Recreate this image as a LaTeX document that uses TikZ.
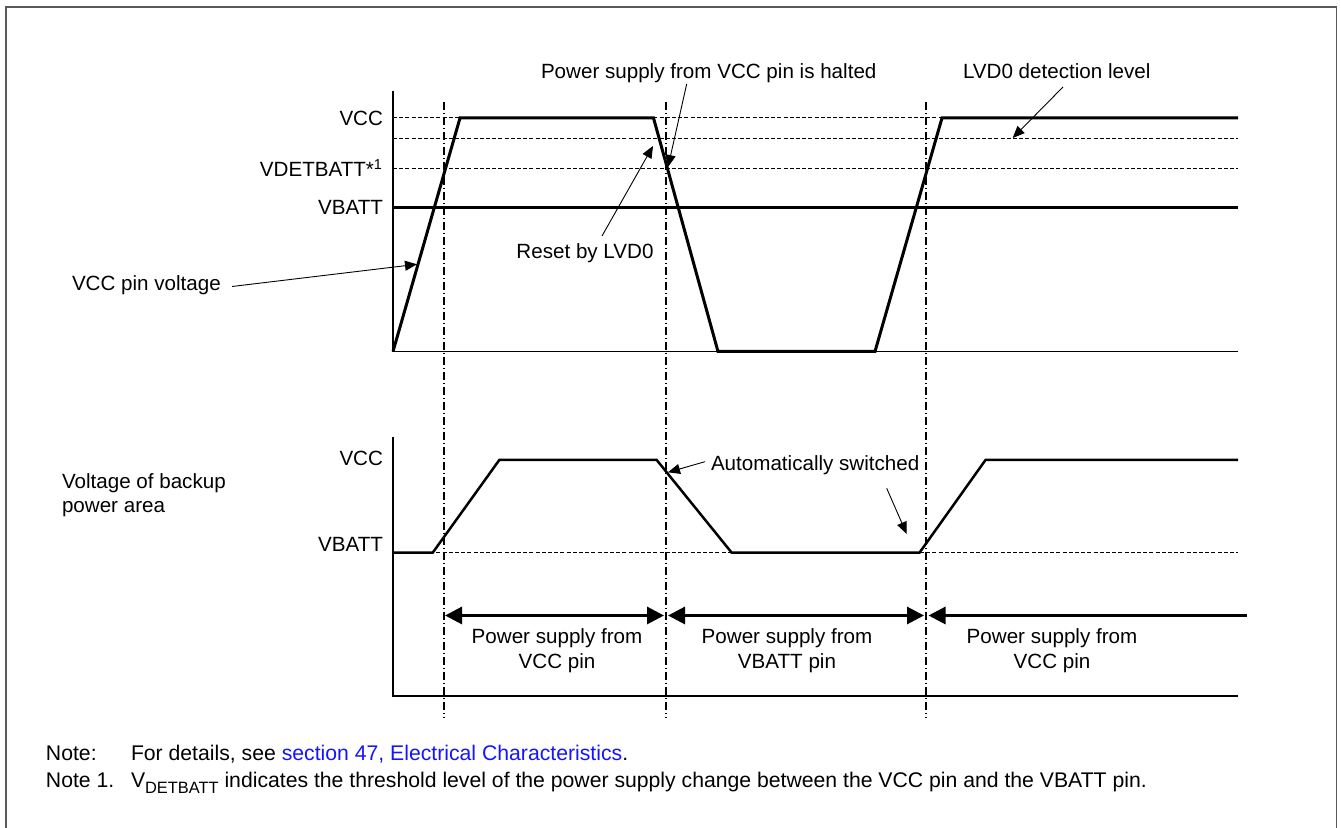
\documentclass[tikz,border=0pt]{standalone}
\usepackage{fontspec}
\setmainfont{Liberation Sans}
\usetikzlibrary{arrows.meta}
\definecolor{framecol}{RGB}{90,90,90}
\definecolor{linkblue}{RGB}{20,20,255}
\newcommand{\mysubtext}[1]{\raisebox{-0.28em}{\fontsize{8.2pt}{9pt}\selectfont #1}}
\begin{document}
\begin{tikzpicture}[x=0.5pt,y=-0.5pt,
  font=\fontsize{10.3pt}{12.3pt}\selectfont,
  lbl/.style={inner sep=0pt, outer sep=0pt},
  notetext/.style={inner sep=0pt, outer sep=0pt, font=\fontsize{10.6pt}{12.6pt}\selectfont},
  thickline/.style={line width=1.5pt, line join=miter},
  midline/.style={line width=1.25pt, line join=miter},
  axisline/.style={line width=0.7pt},
  levelline/.style={line width=0.5pt, dash pattern=on 2pt off 1.1pt},
  dashdot/.style={line width=0.55pt, dash pattern=on 4pt off 1.3pt on 0.9pt off 1.3pt},
  callout/.style={line width=0.45pt, -{Triangle[length=6pt,width=5pt]}},
  span/.style={line width=1.5pt, {Triangle[length=8.5pt,width=8.5pt]}-{Triangle[length=8.5pt,width=8.5pt]}},
  spanleft/.style={line width=1.5pt, {Triangle[length=8.5pt,width=8.5pt]}-}
]
\useasboundingbox (0,0) rectangle (1341,828);
% frame
\draw[framecol, line width=0.75pt] (6,829) -- (6,7) -- (1336.5,7) -- (1336.5,829);

% ---------- top plot ----------
\draw[levelline] (393,118) -- (1238,118);
\draw[levelline] (393,139) -- (1238,139);
\draw[levelline] (393,169) -- (1238,169);
\draw[axisline] (393,91) -- (393,351.5) -- (1238,351.5);
\draw[thickline] (393,207.5) -- (1238,207.5);
\draw[thickline] (393,351.5) -- (460,118) -- (653.5,118) -- (718,351.5) -- (875,351.5) -- (942,118) -- (1238,118);

% ---------- bottom plot ----------
\draw[levelline] (393,552.7) -- (1238,552.7);
\draw[axisline] (393,437) -- (393,696) -- (1238,696);
\draw[midline] (393,552.7) -- (432.7,552.7) -- (499.3,460) -- (656.7,460) -- (731.7,552.7) -- (919.5,552.7) -- (985.5,460) -- (1238,460);

% ---------- dash-dot verticals ----------
\draw[dashdot] (444,102) -- (444,718);
\draw[dashdot] (666,102) -- (666,718);
\draw[dashdot] (926,102) -- (926,718);

% ---------- spans ----------
\coordinate (s1a) at (445,615.5);
\coordinate (s1b) at (664,615.5);
\coordinate (s2a) at (668,615.5);
\coordinate (s2b) at (924,615.5);
\coordinate (s3a) at (928.5,615.5);
\coordinate (s3b) at (1247,615.5);
\draw[span] (s1a) -- (s1b);
\draw[span] (s2a) -- (s2b);
\draw[spanleft] (s3a) -- (s3b);

\node[lbl, align=center] (p1) at (557,650.5) {Power supply from\\VCC pin};
\node[lbl, align=center] (p2) at (787,650.5) {Power supply from\\VBATT pin};
\node[lbl, align=center] (p3) at (1052,650.5) {Power supply from\\VCC pin};

% ---------- axis labels ----------
\node[lbl, anchor=base east] (tvcc) at (383,125.3) {VCC};
\node[lbl, anchor=base east] (tvdet) at (383,176.3) {VDETBATT*\textsuperscript{1}};
\node[lbl, anchor=base east] (tvbatt) at (383,215) {VBATT};
\node[lbl, anchor=base east] (bvcc) at (383,465.5) {VCC};
\node[lbl, anchor=base east] (bvbatt) at (383,551.5) {VBATT};
\node[lbl, align=left, anchor=west] (backup) at (62,495) {Voltage of backup\\power area};

% ---------- callouts ----------
\node[lbl, anchor=base west] (vccpin) at (72,290.3) {VCC pin voltage};
\coordinate (vccpinS) at (232,286.5);
\coordinate (vccpinT) at (417,264.3);
\draw[callout] (vccpinS) -- (vccpinT);

\node[lbl, anchor=base] (reset) at (585,258.3) {Reset by LVD0};
\coordinate (resetS) at (602,236);
\coordinate (resetT) at (653,146);
\draw[callout] (resetS) -- (resetT);

\node[lbl, anchor=base west] (halted) at (541,79) {Power supply from VCC pin is halted};
\coordinate (haltS) at (686.7,84);
\coordinate (haltT) at (668,167);
\draw[callout] (haltS) -- (haltT);

\node[lbl, anchor=base west] (lvd) at (963,79) {LVD0 detection level};
\coordinate (lvdS) at (1063,87);
\coordinate (lvdT) at (1012.7,138);
\draw[callout] (lvdS) -- (lvdT);

\node[lbl, anchor=base west] (auto) at (711,470.5) {Automatically switched};
\coordinate (autoS1) at (705,461.7);
\coordinate (autoT1) at (668,472.3);
\draw[callout] (autoS1) -- (autoT1);
\coordinate (autoS2) at (886.7,488.3);
\coordinate (autoT2) at (906.7,534);
\draw[callout] (autoS2) -- (autoT2);

% ---------- notes ----------
\node[notetext, anchor=base west] (n0) at (46,760.5) {Note:};
\node[notetext, anchor=base west] (n0t) at (131,760.5) {For details, see \textcolor{linkblue}{section 47, Electrical Characteristics}.};
\node[notetext, anchor=base west] (n1) at (46,787.3) {Note 1.};
\node[notetext, anchor=base west] (n1t) at (131,787.3) {V\mysubtext{DETBATT} indicates the threshold level of the power supply change between the VCC pin and the VBATT pin.};
\end{tikzpicture}
\end{document}
